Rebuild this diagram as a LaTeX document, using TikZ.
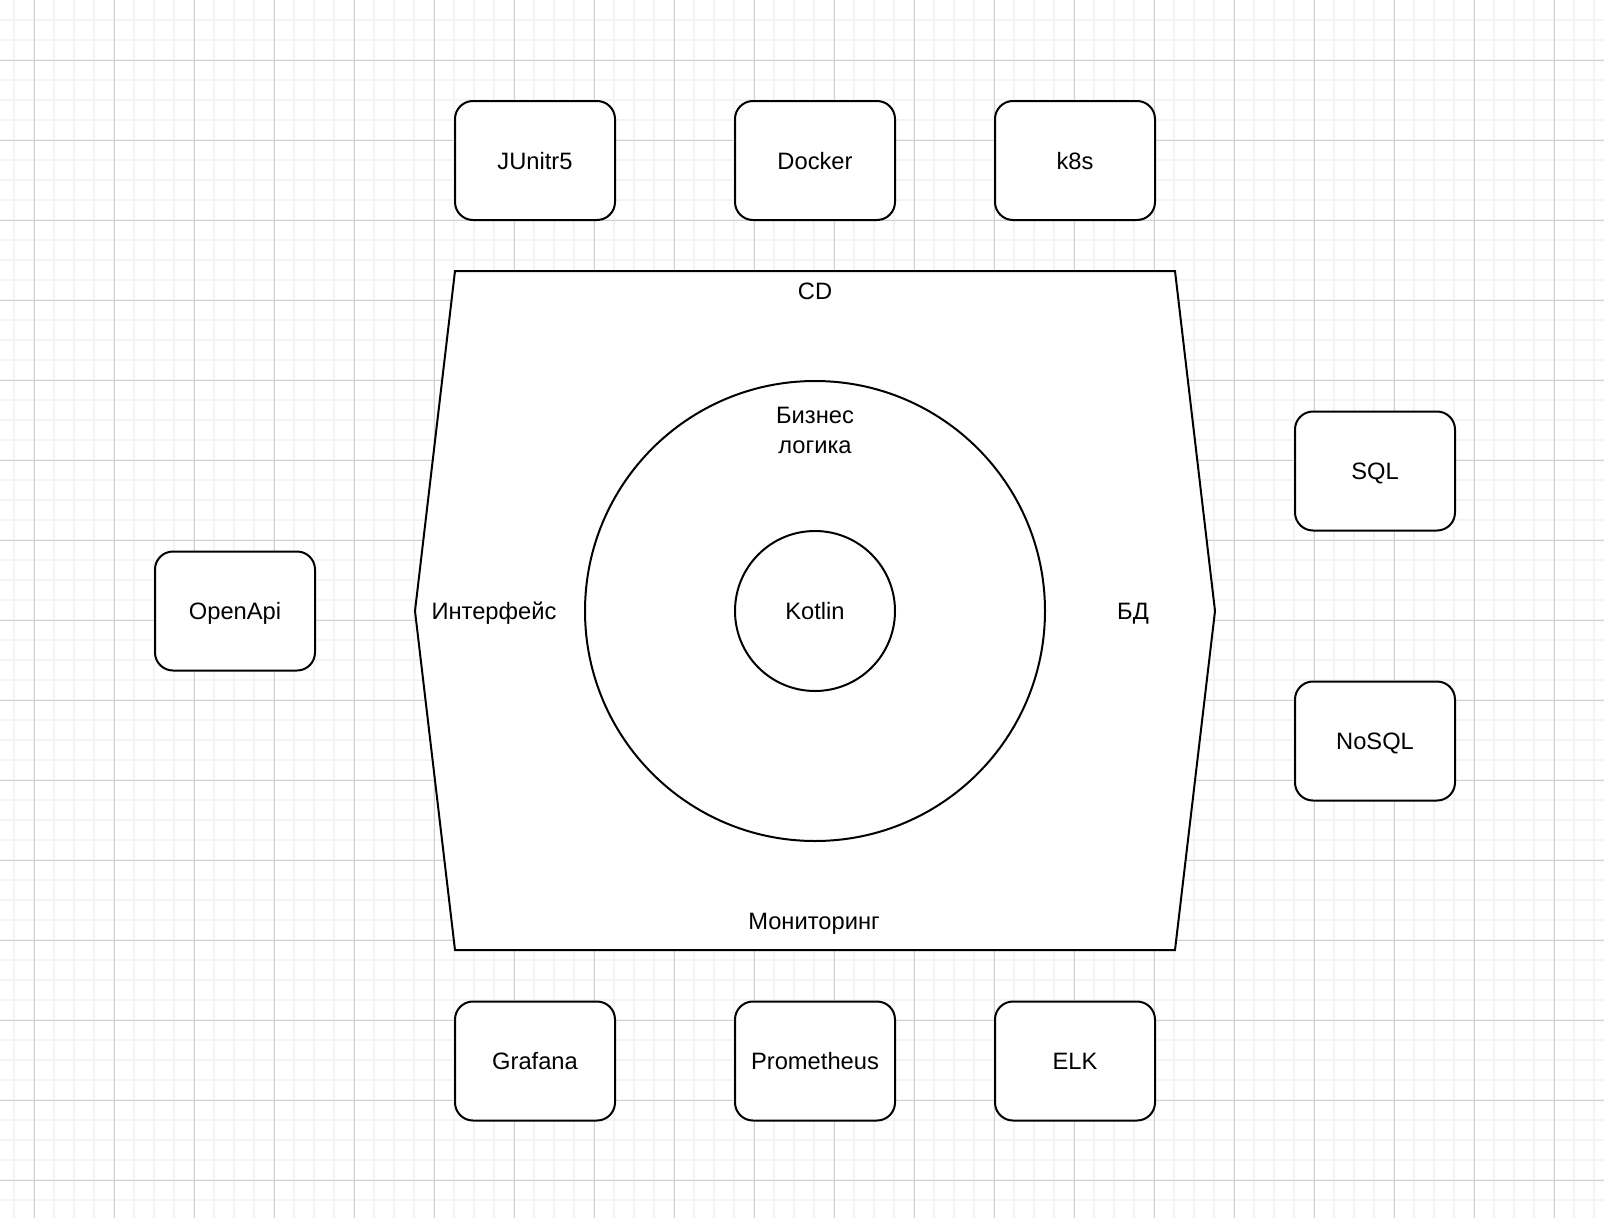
\documentclass[tikz,border=0pt]{standalone}
\usepackage{fontspec}
\setmainfont{Liberation Sans}
\newcommand{\dgfont}{\fontsize{23.7}{30}\selectfont}
\definecolor{minorgrid}{RGB}{243,243,243}
\definecolor{majorgrid}{RGB}{208,208,208}
\begin{document}
\begin{tikzpicture}[x=1pt,y=-1pt,
  box/.style={draw, line width=2pt, fill=white, rounded corners=18pt,
    minimum width=160pt, minimum height=119pt, inner sep=0pt, font=\dgfont,
    text height=17pt, text depth=0pt},
  lbl/.style={inner sep=0pt, font=\dgfont, text height=17pt, text depth=0pt},
  mlbl/.style={inner sep=0pt, font=\dgfont, align=center},
  ring/.style={draw, circle, line width=2pt, fill=white, inner sep=0pt},
  minorline/.style={draw=minorgrid, line width=1.3pt},
  majorline/.style={draw=majorgrid, line width=1pt}]
\useasboundingbox (0,0) rectangle (1604,1218);
\fill[white] (0,0) rectangle (1604,1218);
% grid
\foreach \x in {14,34,...,1594} \draw[minorline] (\x,0) -- (\x,1218);
\foreach \y in {20,40,...,1200} \draw[minorline] (0,\y) -- (1604,\y);
\foreach \x in {34,114,...,1554} \draw[majorline] (\x,0) -- (\x,1218);
\foreach \y in {60,140,...,1180} \draw[majorline] (0,\y) -- (1604,\y);
% hexagon
\coordinate (h1) at (455,271);
\coordinate (h2) at (1175,271);
\coordinate (h3) at (1215,611);
\coordinate (h4) at (1175,950);
\coordinate (h5) at (455,950);
\coordinate (h6) at (415,611);
\draw[line width=2pt, fill=white] (h1) -- (h2) -- (h3) -- (h4) -- (h5) -- (h6) -- cycle;
% circles
\node[ring, minimum size=460pt] (biz) at (815,611) {};
\node[ring, minimum size=160pt, font=\dgfont, text height=17pt, text depth=0pt] (kotlin) at (815,611) {Kotlin};
% labels
\node[lbl] (cd) at (815,291) {CD};
\node[mlbl] (bizl) at (815,430) {Бизнес\\логика};
\node[lbl] (iface) at (494,611) {Интерфейс};
\node[lbl] (db) at (1133,611) {БД};
\node[lbl] (mon) at (814,921) {Мониторинг};
% boxes
\node[box] (junit) at (535,160.5) {JUnitr5};
\node[box] (docker) at (815,160.5) {Docker};
\node[box] (k8s) at (1075,160.5) {k8s};
\node[box] (grafana) at (535,1061) {Grafana};
\node[box] (prom) at (815,1061) {Prometheus};
\node[box] (elk) at (1075,1061) {ELK};
\node[box] (openapi) at (235,611) {OpenApi};
\node[box] (sql) at (1375,471) {SQL};
\node[box] (nosql) at (1375,741) {NoSQL};
\end{tikzpicture}
\end{document}
